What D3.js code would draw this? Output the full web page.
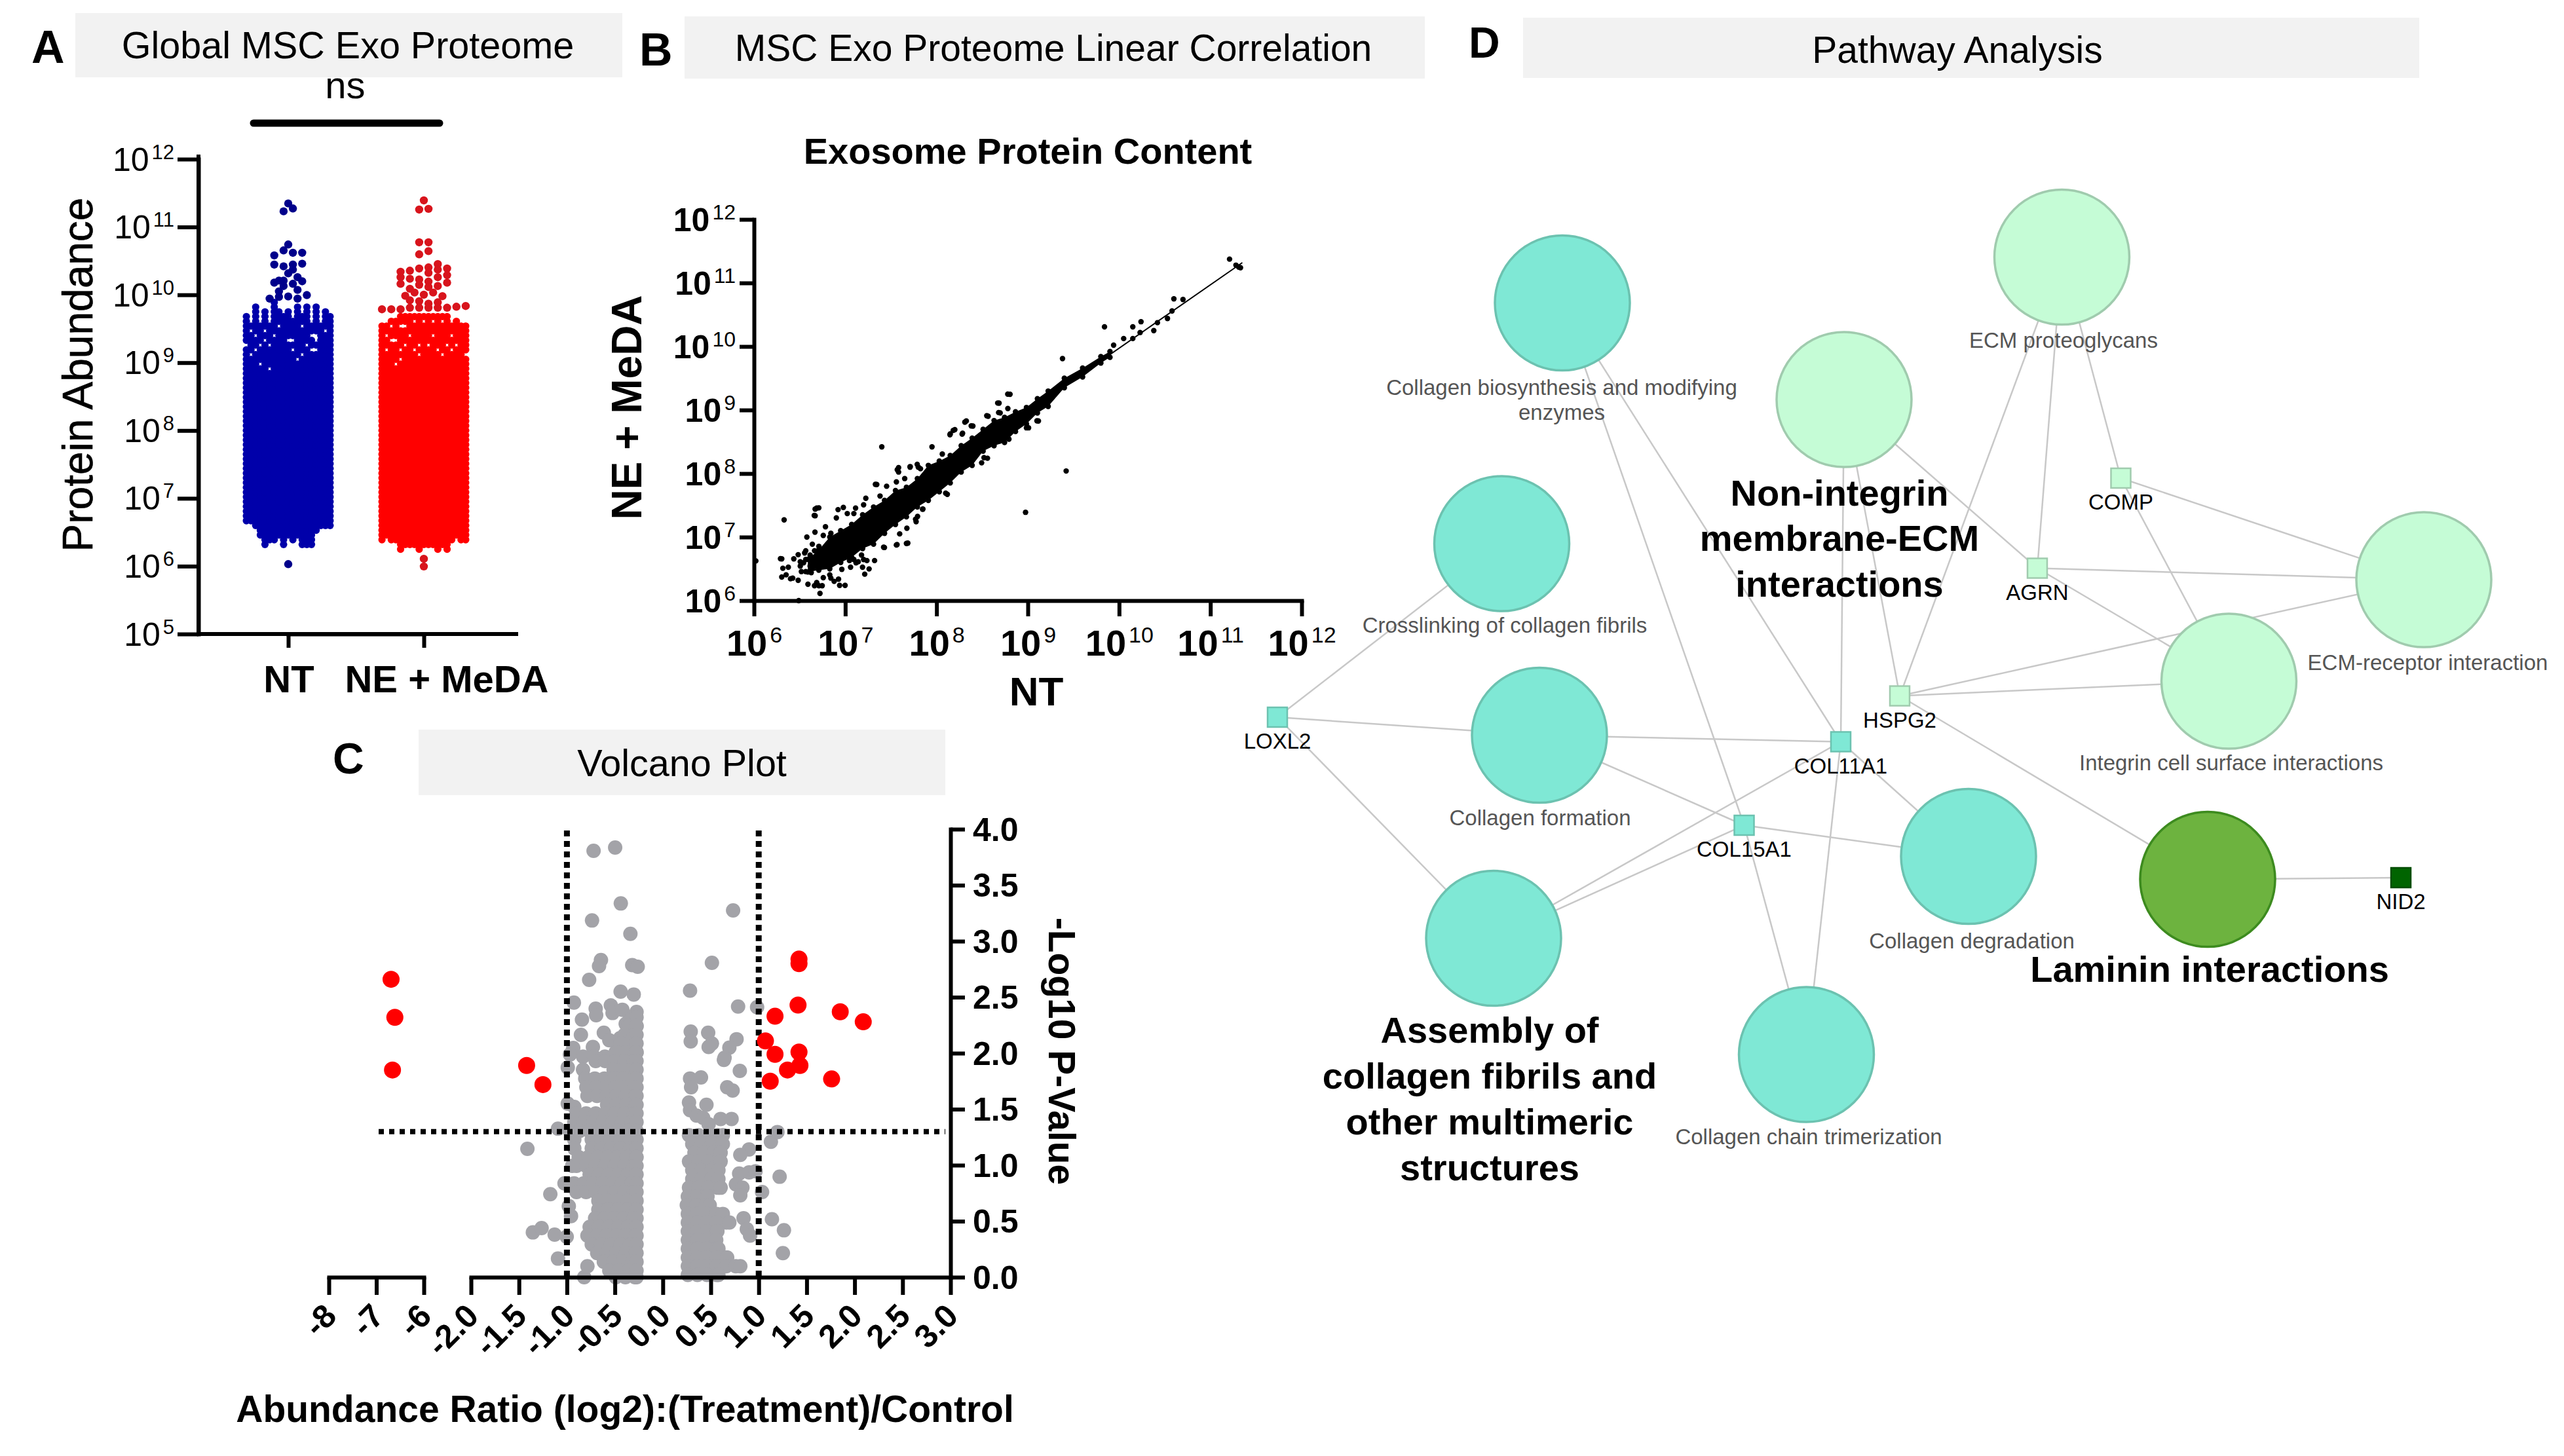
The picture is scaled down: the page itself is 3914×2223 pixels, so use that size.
<!DOCTYPE html>
<html><head><meta charset="utf-8">
<script src="https://cdn.jsdelivr.net/npm/d3@7/dist/d3.min.js"></script>
<style>html,body{margin:0;padding:0;background:#fff}svg{display:block}text{font-family:"Liberation Sans",Arial,sans-serif}</style>
</head><body><div id="chart"></div>
<script>
// ---------- Panel A: swarm, read as columns of a beeswarm (log10 abundance) ----------
const groups = ["NT", "NE + MeDA"];
const swarmCols = [-9,-8,-7,-6,-5,-4,-3,-2,-1,0,1,2,3,4,5,6,7,8,9];
const swarmRows = [6.25,6.32,6.39,6.46,6.53,6.60,6.67,6.74,6.81,6.88,6.95,7.02,7.09,7.16,7.23,7.30,7.37,7.44,7.51,7.58,7.65,7.72,7.79,7.86,7.93,8.00,8.07,8.14,8.21,8.28,8.35,8.42,8.49,8.56,8.63,8.70,8.77,8.84,8.91,8.98,9.05,9.12,9.19,9.26,9.33,9.40,9.47,9.54,9.61,9.68,9.75,9.82,9.89];
const ntTop = [9.73,9.58,9.825,9.58,9.81,9.58,9.905,9.75,9.68,9.81,9.62,9.87,9.72,9.87,9.58,9.87,9.60,9.79,9.68];
const ntBottom = [6.64,6.64,6.56,6.46,6.32,6.37,6.335,6.43,6.32,6.40,6.335,6.40,6.32,6.32,6.32,6.48,6.56,6.59,6.59];
const neTop = [9.55,9.58,9.63,9.66,9.72,9.745,9.745,9.745,9.745,9.745,9.745,9.745,9.745,9.72,9.70,9.66,9.62,9.58,9.55];
const neBottom = [6.366,6.40,6.366,6.334,6.244,6.30,6.27,6.30,6.238,6.30,6.27,6.30,6.206,6.30,6.244,6.334,6.40,6.366,6.366];
const ntHoleCols = [-8,-7,-5,-3,0,1,4,5,6,-7,-4,-8,2,3,-6,-4,1,-2,3,6,8,5,6,-5,-6,-9];
const ntHoleRows = [9.455,9.39,9.44,9.407,9.326,9.31,9.294,9.166,9.166,9.18,9.246,9.085,9.037,9.085,8.97,8.886,9.18,9.536,9.52,9.423,9.455,9.39,9.326,9.326,9.294,9.26];
const neHoleCols = [-7,-5,-4,-2,0,2,4,6,-8,-3,2,6,-7,-6,-4,-1,1,5,7,-8,-5,-2,-1,3,6,-5,-6,9,4];
const neHoleRows = [9.55,9.568,9.55,9.584,9.632,9.584,9.584,9.584,9.423,9.423,9.423,9.423,9.342,9.342,9.278,9.278,9.278,9.246,9.26,9.166,9.166,9.166,9.15,9.166,9.198,9.069,9.005,9.133,9.117];
const ntSparseCols = [0,-1,1,0,-1,1,3,-3,-3,-1,1,3,1,0,2,-3,-2,-1,1,3,-1,2,-2,-2,0,-4,2,4,0];
const ntSparseLogs = [11.347,11.231,11.273,10.742,10.655,10.62,10.62,10.581,10.446,10.42,10.446,10.459,10.372,10.317,10.26,10.18,10.21,10.21,10.163,10.2,10.13,10.073,10.05,9.97,9.976,9.944,9.944,9.996,6.03];
const neSparseCols = [0,-1,1,-1,1,-1,1,-5,-5,-5,-3,-3,-3,-4,-1,-1,-1,-2,1,1,1,1,0,2,3,3,3,3,5,5,5,4,-9,-7,-5,-3,-3,-1,-1,1,1,3,3,5,7,9,0,0];
const neSparseLogs = [11.392,11.257,11.267,10.774,10.774,10.597,10.645,10.34,10.26,10.163,10.356,10.237,10.089,9.986,10.388,10.227,10.147,10.034,10.404,10.324,10.195,10.115,10.002,10.034,10.453,10.372,10.26,10.13,10.388,10.29,10.179,9.98,9.787,9.787,9.787,9.92,9.81,9.905,9.81,9.87,9.81,9.89,9.81,9.81,9.825,9.835,6.109,5.996];
const abundanceTicks = [5,6,7,8,9,10,11,12];

// ---------- Panel B: log10 NT vs log10 NE+MeDA ----------
const coreX  = [6.59,6.71,6.83,6.95,7.07,7.19,7.31,7.43,7.55,7.67,7.79,7.91,8.03,8.15,8.27,8.39,8.51,8.63,8.745,8.865,8.985,9.105,9.223,9.4,9.6,9.8,9.9];
const coreHi = [6.65,6.8,7.0,7.1,7.2,7.35,7.473,7.577,7.732,7.783,7.921,8.128,8.197,8.283,8.438,8.558,8.696,8.834,8.885,8.971,9.04,9.178,9.298,9.5,9.66,9.84,9.92];
const coreLo = [6.45,6.48,6.5,6.6,6.68,6.82,6.888,7.06,7.198,7.318,7.473,7.577,7.714,7.852,8.024,8.128,8.352,8.438,8.489,8.661,8.782,8.954,9.057,9.35,9.52,9.74,9.83];
const scatterX = [9.94,10.05,10.15,10.23,10.15,10.24,10.38,10.42,10.53,10.58,10.6,10.7,11.21,11.31,11.33,11.28,9.84,9.38,8.78,8.67,8.55,8.68,9.1,8.985,9.42,8.975,7.4,7.95,8.31,8.15,8.2,8.28,8.38,7.57,7.71,7.8,7.33,8.1,6.33,6.67,6.71,6.66,6.02,6.49,6.29,7.67,7.56,7.42,7.77,7.85,8.52,
6.304,6.316,6.376,6.304,6.40,6.484,6.591,6.663,6.747,6.723,6.759,6.926,6.938,6.998,6.878,6.484,6.436,6.543,6.507,6.567,6.639,6.579,6.668,6.67,6.687,7.213,7.261,7.321,7.058,7.429,7.567,7.685,7.675,7.596,7.776,7.792,7.847,8.118,8.494,8.558,8.793,9.008,9.116,7.345,7.225,7.113,6.979,6.921,7.584,7.584,7.711,7.788,7.824,7.651,7.56,7.453,7.381,8.147,8.183,8.285,8.326,8.398,8.565,8.685,8.697,8.781,8.805,8.063,
6.567,6.615,6.663,6.711,6.759,6.783,6.842,6.902,7.022,7.094,7.201,7.201,7.178,7.237,7.142,7.118,7.189,6.962,6.83,6.842,6.687,6.711,6.519,6.567,6.352,6.424,6.627,6.615,6.555,6.711,6.507,7.046,7.094];
const scatterY = [10.02,10.125,10.125,10.22,10.31,10.39,10.25,10.375,10.44,10.56,10.75,10.74,11.375,11.25,11.24,11.28,10.31,9.81,9.25,9.11,8.91,8.96,8.83,8.72,8.04,7.39,8.42,8.42,8.81,8.625,8.69,8.62,8.75,8.06,8.1,8.1,7.83,7.69,7.27,7.44,7.46,7.34,6.625,6.0,6.66,6.9,6.875,6.84,7.28,7.44,8.25,
6.657,6.509,6.526,6.371,6.344,6.32,6.258,6.234,6.234,6.113,6.361,6.337,6.24,6.24,6.303,6.723,6.657,6.595,6.544,6.785,6.888,7.0,7.077,7.336,7.456,6.416,6.499,6.63,6.526,6.836,6.881,6.905,7.139,7.05,7.243,7.325,7.439,7.673,8.169,8.241,8.541,8.72,8.827,7.828,7.611,7.456,7.466,7.432,8.093,8.024,8.11,8.145,8.076,7.921,7.869,7.8,7.646,8.61,8.679,8.634,8.827,8.747,8.902,9.109,8.954,9.023,9.247,8.307,
6.647,6.716,6.785,6.854,7.026,7.163,7.06,7.301,7.37,7.37,7.508,6.647,6.716,6.63,6.612,6.595,6.526,6.492,6.406,6.354,6.285,6.234,6.457,6.457,6.406,6.354,6.44,6.544,6.75,6.578,6.612,6.63,6.647];
const fitLineX = [6.8,11.35];
const fitLineY = [6.78,11.32];
const correlationTicks = [6,7,8,9,10,11,12];

// ---------- Panel C: volcano ----------
const volcanoTicksLeft = [-8,-7,-6];
const volcanoTicksRight = [-2,-1.5,-1,-0.5,0,0.5,1,1.5,2,2.5,3];
const pTicks = [0,0.5,1,1.5,2,2.5,3,3.5,4];
const sigX = [-6.69,-6.61,-6.66,-1.42,-1.25,1.42,1.42,1.41,1.17,1.85,2.09,1.07,1.17,1.42,1.30,1.43,1.12,1.76];
const sigY = [2.66,2.32,1.85,1.89,1.72,2.84,2.80,2.43,2.33,2.37,2.28,2.11,1.99,2.01,1.85,1.89,1.75,1.77];
const grayX = [-0.722,-0.497,-0.438,-0.738,-0.338,0.733,-0.645,-0.665,-0.319,-0.262,-0.768,0.512,0.284,-0.44,-0.303,-0.927,0.785,0.983,-0.70,-0.695,-0.542,-0.524,-0.422,-0.274,-0.342,-0.843,-0.274,-0.387,-0.854,-0.615,-0.558,-0.445,-0.319,-0.729,-0.934,-0.387,-0.274,-0.49,-0.604,-0.968,-0.832,-0.718,0.291,0.291,0.473,0.512,0.478,0.769,0.694,0.644,
0.284,0.398,0.295,0.273,0.455,0.284,0.352,0.421,0.603,0.717,0.478,0.803,0.671,0.728,0.637,0.899,0.808,0.796,0.899,0.967,0.762,0.83,0.808,1.035,0.842,0.876,0.91,1.218,1.138,1.127,1.195,1.263,1.252,-1.173,-1.412,-1.355,-1.264,-1.128,-1.002,-1.093,-0.82,-0.786,-1.014,-0.98,-0.957,-0.832,-0.991,-0.991,-0.923,-1.093,-0.923,-0.923,-0.945];
const grayY = [3.807,3.836,3.337,3.185,3.066,3.275,2.832,2.778,2.787,2.772,2.655,2.807,2.559,2.55,2.524,2.452,2.417,2.411,2.398,2.339,2.427,2.359,2.388,2.368,2.32,2.30,2.242,2.261,2.164,2.183,2.115,2.134,2.164,2.056,2.047,2.066,2.008,2.008,1.969,1.988,1.969,1.969,2.193,2.105,2.183,2.086,2.056,2.125,2.05,1.959,
1.774,1.784,1.696,1.56,1.54,1.491,1.443,1.423,1.413,1.413,1.365,1.842,1.696,1.667,1.94,1.141,1.092,0.926,0.936,0.946,0.829,0.799,0.731,0.76,0.527,0.429,0.371,0.897,0.517,1.209,1.296,0.419,0.215,0.741,1.146,0.40,0.439,0.38,0.361,0.166,0,0.098,0.838,0.634,0.546,1.852,1.872,1.55,1.521,1.326,1.228,1.15,0.994];
const denseLeftP    = [2.32,2.242,2.164,2.086,2.008,1.93,1.852,1.774,1.696,1.618,1.54,1.462,1.384,1.306,1.228,1.15,1.072,0.994,0.916,0.838,0.76,0.682,0.604,0.526,0.449,0.371,0.293,0.215,0.137,0.059,0];
const denseLeftFrom = [-0.32,-0.36,-0.40,-0.44,-0.49,-0.70,-0.513,-0.809,-0.797,-0.786,-0.581,-0.90,-0.923,-0.968,-0.741,-0.741,-0.877,-0.90,-0.763,-1.025,-0.90,-0.672,-0.672,-0.706,-0.763,-0.786,-0.741,-0.684,-0.615,-0.558,-0.49];
const denseLeftTo = -0.274;
const denseRightP    = [1.267,1.189,1.111,1.033,0.955,0.877,0.799,0.721,0.643,0.565,0.488,0.41,0.332,0.254,0.176,0.098,0.02];
const denseRightFrom = [0.273,0.307,0.33,0.273,0.307,0.307,0.273,0.261,0.25,0.261,0.261,0.261,0.261,0.261,0.261,0.261,0.261];
const denseRightTo   = [0.626,0.626,0.603,0.603,0.58,0.58,0.603,0.466,0.489,0.626,0.694,0.569,0.557,0.58,0.671,0.808,0.58];
const cutX = [-1,1];
const cutP = 1.3;

// ---------- Panel D: network (layout units) ----------
const pathwayNames = ["Collagen biosynthesis and modifying enzymes","ECM proteoglycans","Non-integrin membrane-ECM interactions","Crosslinking of collagen fibrils","ECM-receptor interaction","Integrin cell surface interactions","Collagen formation","Collagen degradation","Laminin interactions","Assembly of collagen fibrils and other multimeric structures","Collagen chain trimerization"];
const pathwayX = [954,1259,1126,917,1480,1361,940,1202,1348,912,1103];
const pathwayY = [185,157,244,332,354,416,449,523,537,573,644];
const pathwayKind = ["teal","pale","pale","teal","pale","pale","teal","teal","green","teal","teal"];
const geneNames = ["COMP","AGRN","HSPG2","LOXL2","COL11A1","COL15A1","NID2"];
const geneX = [1295,1244,1160,780,1124,1065,1466];
const geneY = [292,347,425,438,453,504,536];
const geneKind = ["pale","pale","pale","teal","teal","teal","dark"];
const edgeFrom = ["Collagen biosynthesis and modifying enzymes","Collagen biosynthesis and modifying enzymes","COL15A1","Non-integrin membrane-ECM interactions","Non-integrin membrane-ECM interactions","Non-integrin membrane-ECM interactions","ECM proteoglycans","ECM proteoglycans","ECM proteoglycans","COMP","COMP","AGRN","AGRN","HSPG2","HSPG2","HSPG2","Crosslinking of collagen fibrils","LOXL2","LOXL2","Collagen formation","Collagen formation","COL11A1","COL15A1","COL11A1","COL15A1","COL11A1","Laminin interactions"];
const edgeTo = ["COL11A1","COL15A1","Collagen chain trimerization","COL11A1","HSPG2","AGRN","HSPG2","AGRN","COMP","ECM-receptor interaction","Integrin cell surface interactions","ECM-receptor interaction","Integrin cell surface interactions","ECM-receptor interaction","Integrin cell surface interactions","Laminin interactions","LOXL2","Collagen formation","Assembly of collagen fibrils and other multimeric structures","COL11A1","COL15A1","Assembly of collagen fibrils and other multimeric structures","Assembly of collagen fibrils and other multimeric structures","Collagen degradation","Collagen degradation","Collagen chain trimerization","NID2"];

// ---------- drawing ----------
const W = 3914, H = 2223;
const svg = d3.select("#chart").append("svg").attr("width",W).attr("height",H).attr("viewBox",`0 0 ${W} ${H}`);
svg.append("rect").attr("width",W).attr("height",H).attr("fill","#fff");

function txt(x,y,s,size,opt={}){
  const t = svg.append("text").attr("x",x).attr("y",y).attr("font-size",size)
    .attr("text-anchor",opt.anchor||"middle").attr("font-weight",opt.weight||"normal").attr("fill",opt.fill||"#000").text(s);
  if(opt.rotate!==undefined) t.attr("transform",`rotate(${opt.rotate} ${x} ${y})`);
  return t;
}
function header(x0,x1,y0,y1,s,size,base,cx){
  svg.append("rect").attr("x",x0).attr("y",y0).attr("width",x1-x0).attr("height",y1-y0).attr("fill","#f2f2f2");
  txt(cx,base,s,size);
}
function styleAxis(g,w){
  g.selectAll("path.domain").attr("stroke","#000").attr("stroke-width",w).attr("stroke-linecap","square");
  g.selectAll(".tick line").attr("stroke","#000").attr("stroke-width",w);
}
function powerLabels(g,size,supSize,weight,supWeight,dy){
  g.selectAll(".tick text").each(function(d){
    const t = d3.select(this).text("").attr("font-family",null).attr("fill","#000");
    t.append("tspan").attr("font-size",size).attr("font-weight",weight).text("10");
    t.append("tspan").attr("font-size",supSize).attr("font-weight",supWeight).attr("dx",4).attr("dy",-dy).text(d);
  });
}
const hyphen = f => d => f(d).replace("\u2212","-");

// headers
header(115,950,20,118,"Global MSC Exo Proteome",57.5,89,531);
header(1045,2175,25,120,"MSC Exo Proteome Linear Correlation",57,93,1608);
header(639,1443,1114,1214,"Volcano Plot",57.5,1185,1041);
header(2325,3693,27,119,"Pathway Analysis",57,96,2988);
txt(48,96,"A",70,{anchor:"start",weight:"bold"});
txt(976,100,"B",70,{anchor:"start",weight:"bold"});
txt(508,1181,"C",66,{anchor:"start",weight:"bold"});
txt(2242,88,"D",66,{anchor:"start",weight:"bold"});

// Panel A
const ya = d3.scaleLinear().domain([5,12]).range([968,243]);
const xa = d3.scalePoint().domain(groups).range([440,647]);
const colA = d3.scaleLinear().domain([-1,1]).range([-7.1,7.1]);
function swarmPoints(group,top,bottom,holeC,holeR,sparseC,sparseL){
  const holes = new Set(holeC.map((c,i)=>c+"|"+d3.least(swarmRows,r=>Math.abs(r-holeR[i]))));
  const pts = [];
  swarmCols.forEach((c,i)=>swarmRows.forEach(r=>{
    if(r<=top[i]+0.001 && r>=bottom[i]-0.001 && !holes.has(c+"|"+r)) pts.push({c,l:r,dense:true});
  }));
  sparseC.forEach((c,i)=>pts.push({c,l:sparseL[i],dense:false}));
  return pts.map(p=>({...p,g:group}));
}
const swarm = swarmPoints(groups[0],ntTop,ntBottom,ntHoleCols,ntHoleRows,ntSparseCols,ntSparseLogs)
  .concat(swarmPoints(groups[1],neTop,neBottom,neHoleCols,neHoleRows,neSparseCols,neSparseLogs));
svg.append("g").selectAll("circle").data(swarm).join("circle")
  .attr("cx",d=>xa(d.g)+colA(d.c)).attr("cy",d=>ya(d.l)).attr("r",d=>d.dense?5.6:6.2)
  .attr("fill",d=>d.g===groups[0]?(d.dense?"#0000aa":"#00008b"):(d.dense?"#ff0000":"#d8141c"));
let g = svg.append("g").attr("transform","translate(303,0)").call(d3.axisLeft(ya).tickValues(abundanceTicks).tickSize(32).tickSizeOuter(0).tickPadding(5));
styleAxis(g,6); powerLabels(g,50,31,"normal","normal",18);
g.selectAll(".tick text").attr("dy",17);
g = svg.append("g").attr("transform","translate(0,968)").call(d3.axisBottom(xa).tickSize(21).tickSizeOuter(0).tickFormat(""));
styleAxis(g,6);
svg.append("line").attr("x1",303).attr("x2",791).attr("y1",968).attr("y2",968).attr("stroke","#000").attr("stroke-width",6);
svg.append("line").attr("x1",303).attr("x2",303).attr("y1",236).attr("y2",968).attr("stroke","#000").attr("stroke-width",6);
txt(441,1057,groups[0],58,{weight:"bold"});
txt(682,1057,groups[1],58,{weight:"bold"});
txt(141,572,"Protein Abundance",64,{rotate:-90}).attr("stroke","#000").attr("stroke-width",0.6);
txt(527,150,"ns",58);
svg.append("line").attr("x1",387).attr("x2",671).attr("y1",188).attr("y2",188).attr("stroke","#000").attr("stroke-width",11).attr("stroke-linecap","round");

// Panel B
const xb = d3.scaleLinear().domain([6,12]).range([1151,1987]);
const yb = d3.scaleLinear().domain([6,12]).range([917,335]);
svg.append("path").datum(coreX.map((x,i)=>({x,lo:coreLo[i],hi:coreHi[i]})))
  .attr("d",d3.area().x(d=>xb(d.x)).y0(d=>yb(d.lo)).y1(d=>yb(d.hi))).attr("fill","#000");
svg.append("line").attr("x1",xb(fitLineX[0])).attr("x2",xb(fitLineX[1])).attr("y1",yb(fitLineY[0])).attr("y2",yb(fitLineY[1])).attr("stroke","#000").attr("stroke-width",2);
const edgeDots = coreX.flatMap((x,i)=>[{x,y:coreLo[i]},{x,y:coreHi[i]}]);
svg.append("g").selectAll("circle").data(edgeDots.concat(scatterX.map((x,i)=>({x,y:scatterY[i]})))).join("circle")
  .attr("cx",d=>xb(d.x)).attr("cy",d=>yb(d.y)).attr("r",4.2).attr("fill","#000");
g = svg.append("g").attr("transform","translate(1151,0)").call(d3.axisLeft(yb).tickValues(correlationTicks).tickSize(22).tickSizeOuter(0).tickPadding(6));
styleAxis(g,6); powerLabels(g,50,32,"bold","normal",18);
g.selectAll(".tick text").attr("dy",17);
g = svg.append("g").attr("transform","translate(0,917)").call(d3.axisBottom(xb).tickValues(correlationTicks).tickSize(24).tickSizeOuter(0).tickPadding(14));
styleAxis(g,6); powerLabels(g,56,34,"bold","normal",20);
g.selectAll(".tick text").attr("dy",46);
txt(1569,250,"Exosome Protein Content",56,{weight:"bold"});
txt(1582,1077,"NT",62,{weight:"bold"});
txt(979,622,"NE + MeDA",64,{weight:"bold",rotate:-90});

// Panel C
const xcL = d3.scaleLinear().domain([-8,-6]).range([502,647]);
const xcR = d3.scaleLinear().domain([-2,3]).range([719,1451]);
const xc = v => v < -4 ? xcL(v) : xcR(v);
const yc = d3.scaleLinear().domain([0,4]).range([1950,1266]);
const denseStep = 0.1;
const grayPts = grayX.map((x,i)=>({x,y:grayY[i]}));
denseLeftP.forEach((p,i)=>{ d3.range(denseLeftFrom[i],denseLeftTo+0.001,denseStep).concat([denseLeftTo]).forEach(x=>grayPts.push({x,y:p})); });
denseRightP.forEach((p,i)=>{ d3.range(denseRightFrom[i],denseRightTo[i]+0.001,denseStep).concat([denseRightTo[i]]).forEach(x=>grayPts.push({x,y:p})); });
svg.append("g").selectAll("circle").data(grayPts).join("circle")
  .attr("cx",d=>xc(d.x)).attr("cy",d=>yc(d.y)).attr("r",11).attr("fill","#a3a3a8");
g = svg.append("g").attr("transform","translate(0,1950)").call(d3.axisBottom(xcL).tickValues(volcanoTicksLeft).tickSize(27).tickSizeOuter(0).tickFormat(hyphen(d3.format("d"))));
styleAxis(g,6);
g.selectAll(".tick text").attr("font-size",50).attr("font-weight","bold").attr("font-family",null).attr("fill","#000")
  .attr("text-anchor","end").attr("dy",0).attr("y",0).attr("transform","translate(14,62) rotate(-45)");
g = svg.append("g").attr("transform","translate(0,1950)").call(d3.axisBottom(xcR).tickValues(volcanoTicksRight).tickSize(27).tickSizeOuter(0).tickFormat(hyphen(d3.format(".1f"))));
styleAxis(g,6);
g.selectAll(".tick text").attr("font-size",50).attr("font-weight","bold").attr("font-family",null).attr("fill","#000")
  .attr("text-anchor","end").attr("dy",0).attr("y",0).attr("transform","translate(14,62) rotate(-45)");
g = svg.append("g").attr("transform","translate(1451,0)").call(d3.axisRight(yc).tickValues(pTicks).tickSize(22).tickSizeOuter(0).tickPadding(12).tickFormat(d3.format(".1f")));
styleAxis(g,6);
g.selectAll(".tick text").attr("font-size",50).attr("font-weight","bold").attr("font-family",null).attr("fill","#000").attr("dy",17);
cutX.forEach(c=>svg.append("line").attr("x1",xc(c)).attr("x2",xc(c)).attr("y1",1268).attr("y2",1950)
  .attr("stroke","#000").attr("stroke-width",9).attr("stroke-dasharray","9 7"));
svg.append("line").attr("x1",578).attr("x2",1443).attr("y1",yc(cutP)).attr("y2",yc(cutP))
  .attr("stroke","#000").attr("stroke-width",8).attr("stroke-dasharray","8 8");
svg.append("g").selectAll("circle").data(sigX.map((x,i)=>({x,y:sigY[i]}))).join("circle")
  .attr("cx",d=>xc(d.x)).attr("cy",d=>yc(d.y)).attr("r",13).attr("fill","#ff0000");
txt(954,2171,"Abundance Ratio (log2):(Treatment)/Control",57,{weight:"bold"});
txt(1601,1605,"-Log10 P-Value",57,{weight:"bold",rotate:90});

// Panel D
const layout = d3.scaleLinear().domain([0,1565.6]).range([0,W]);
const palette = {teal:["#7fe8d5","#6cc2b0"],pale:["#c5fcd6","#a0cbae"],green:["#6db33f","#3d8b1f"],dark:["#006400","#004d00"]};
const pathways = pathwayNames.map((n,i)=>({n,x:pathwayX[i],y:pathwayY[i],k:pathwayKind[i]}));
const genes = geneNames.map((n,i)=>({n,x:geneX[i],y:geneY[i],k:geneKind[i]}));
const index = new Map(pathways.concat(genes).map(d=>[d.n,d]));
svg.append("g").selectAll("line").data(edgeFrom.map((a,i)=>[index.get(a),index.get(edgeTo[i])])).join("line")
  .attr("x1",d=>layout(d[0].x)).attr("y1",d=>layout(d[0].y)).attr("x2",d=>layout(d[1].x)).attr("y2",d=>layout(d[1].y))
  .attr("stroke","#c8c8c8").attr("stroke-width",2.5);
svg.append("g").selectAll("circle").data(pathways).join("circle")
  .attr("cx",d=>layout(d.x)).attr("cy",d=>layout(d.y)).attr("r",103)
  .attr("fill",d=>palette[d.k][0]).attr("stroke",d=>palette[d.k][1]).attr("stroke-width",3.5);
svg.append("g").selectAll("rect").data(genes).join("rect")
  .attr("x",d=>layout(d.x)-15).attr("y",d=>layout(d.y)-15).attr("width",30).attr("height",30)
  .attr("fill",d=>palette[d.k][0]).attr("stroke",d=>palette[d.k][1]).attr("stroke-width",2.5);
const geneLabelDy = 48;
genes.forEach(d=>txt(layout(d.x),layout(d.y)+geneLabelDy,d.n,33));
[["Collagen biosynthesis and modifying",2384,603],["enzymes",2384,641],["ECM proteoglycans",3150,531],["Crosslinking of collagen fibrils",2297,966],["ECM-receptor interaction",3706,1023],["Integrin cell surface interactions",3406,1176],["Collagen formation",2351,1260],["Collagen degradation",3010,1448],["Collagen chain trimerization",2761,1747]]
  .forEach(l=>txt(l[1],l[2],l[0],33,{fill:"#555"}));
[["Non-integrin",2808,772],["membrane-ECM",2808,841],["interactions",2808,911],["Assembly of",2274,1592],["collagen fibrils and",2274,1662],["other multimeric",2274,1732],["structures",2274,1802],["Laminin interactions",3373,1499]]
  .forEach(l=>txt(l[1],l[2],l[0],56,{weight:"bold"}));
</script></body></html>
